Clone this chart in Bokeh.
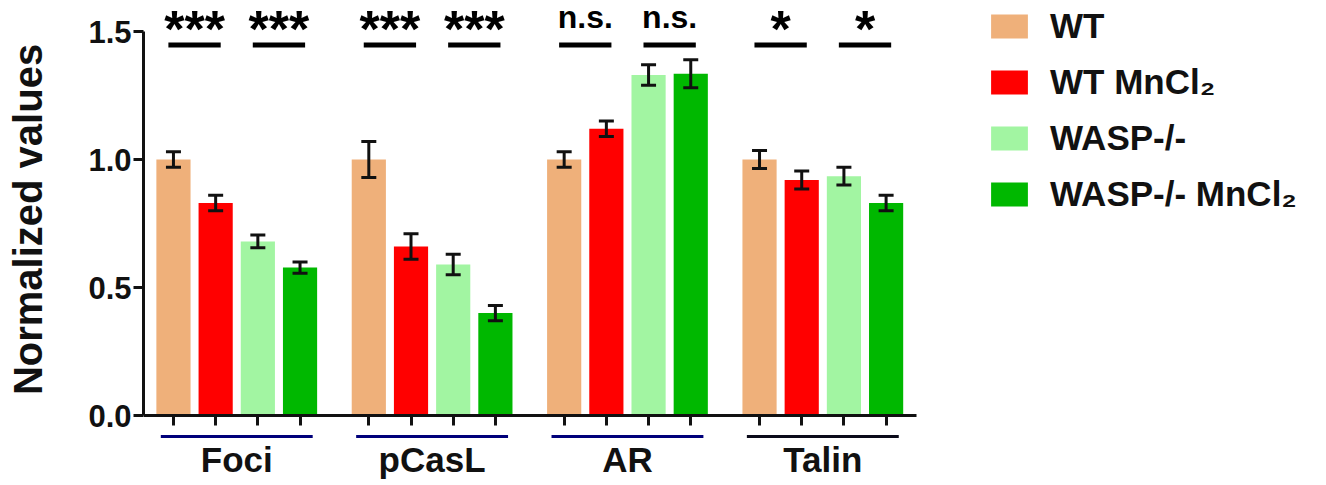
from bokeh.plotting import figure
from bokeh.models import (ColumnDataSource, Range1d, FixedTicker, Whisker, TeeHead,
                          Legend, LegendItem, PrintfTickFormatter, LinearAxis)
from bokeh.core.properties import value
from bokeh.embed import file_html
from bokeh.resources import INLINE

# ---------------- data ----------------
groups = ["Foci", "pCasL", "AR", "Talin"]
series = ["WT", "WT MnCl\u2082", "WASP-/-", "WASP-/- MnCl\u2082"]
colors = ["#EFB07A", "#FF0000", "#A2F5A2", "#00B800"]

wt          = [1.00, 1.00, 1.00, 1.00]
wt_mn       = [0.83, 0.66, 1.12, 0.92]
wasp        = [0.68, 0.59, 1.33, 0.935]
wasp_mn     = [0.578, 0.40, 1.335, 0.83]

wt_err      = [0.03, 0.07, 0.03, 0.035]
wt_mn_err   = [0.03, 0.05, 0.03, 0.035]
wasp_err    = [0.025, 0.04, 0.04, 0.035]
wasp_mn_err = [0.022, 0.03, 0.055, 0.03]

# significance: (group index, first bar of the compared pair, label)
sig_group = [0, 0, 1, 1, 2, 2, 3, 3]
sig_first = [0, 2, 0, 2, 0, 2, 0, 2]
sig_label = ["***", "***", "***", "***", "n.s.", "n.s.", "*", "*"]

underline_colors = ["#00007A", "#00007A", "#00007A", "#0A0A1A"]

y_ticks = [0.0, 0.5, 1.0, 1.5]

# ---------------- layout constants ----------------
GROUP_STEP = 4.63
BAR_W = 0.81
FONT = "Liberation Sans"
INK = "#111111"

values = [wt, wt_mn, wasp, wasp_mn]
errors = [wt_err, wt_mn_err, wasp_err, wasp_mn_err]

def xpos(g, i):
    return g * GROUP_STEP + i

p = figure(width=1324, height=484, output_backend="svg", toolbar_location=None,
           title=None, x_range=Range1d(-0.71, 27.28), y_range=Range1d(-0.0898, 1.6211),
           min_border_left=143, min_border_right=0, min_border_top=0,
           min_border_bottom=46)
p.outline_line_color = None
p.xgrid.visible = False
p.ygrid.visible = False
p.background_fill_color = "white"
p.border_fill_color = "white"

legend_items = []
for s, (name, col, vals, errs) in enumerate(zip(series, colors, values, errors)):
    xs = [xpos(g, s) for g in range(len(groups))]
    src = ColumnDataSource(dict(x=xs, top=vals,
                                lower=[v - e for v, e in zip(vals, errs)],
                                upper=[v + e for v, e in zip(vals, errs)]))
    r = p.vbar(x="x", top="top", width=BAR_W, bottom=0, source=src,
               fill_color=col, line_color=None)
    legend_items.append(LegendItem(label=name, renderers=[r]))
    w = Whisker(base="x", lower="lower", upper="upper", source=src,
                dimension="height", line_width=3, line_color=INK, level="overlay",
                upper_head=TeeHead(size=15, line_width=3, line_color=INK),
                lower_head=TeeHead(size=15, line_width=3, line_color=INK))
    p.add_layout(w)

# significance lines + labels
mids = [(xpos(g, a) + xpos(g, a + 1)) / 2 for g, a in zip(sig_group, sig_first)]
sig_src = ColumnDataSource(dict(x0=[m - 0.62 for m in mids], x1=[m + 0.62 for m in mids],
                                y=[1.447] * len(mids)))
p.segment(x0="x0", y0="y", x1="x1", y1="y", source=sig_src, line_width=5,
          line_color="black")

star_idx = [k for k, t in enumerate(sig_label) if "*" in t]
ns_idx = [k for k, t in enumerate(sig_label) if "*" not in t]
star_src = ColumnDataSource(dict(x=[mids[k] for k in star_idx],
                                 y=[1.51] * len(star_idx),
                                 t=[sig_label[k] for k in star_idx]))
ns_src = ColumnDataSource(dict(x=[mids[k] for k in ns_idx],
                               y=[1.5547] * len(ns_idx),
                               t=[sig_label[k] for k in ns_idx]))
p.text(x="x", y="y", text="t", source=star_src, text_align="center",
       text_baseline="alphabetic", text_font=value(FONT), text_font_style="bold",
       text_font_size="52px", text_color="black")
p.text(x="x", y="y", text="t", source=ns_src, text_align="center",
       text_baseline="alphabetic", text_font=value(FONT), text_font_style="bold",
       text_font_size="32px", text_color="black")

# group underlines
centers = [xpos(g, 1.5) for g in range(len(groups))]
grp_src = ColumnDataSource(dict(x0=[c - 1.8 for c in centers],
                                x1=[c + 1.8 for c in centers],
                                y=[-0.082] * len(groups), color=underline_colors))
p.segment(x0="x0", y0="y", x1="x1", y1="y", source=grp_src, line_width=3,
          line_color="color")

# group-name axis (below the frame)
ga = p.xaxis[0]
ga.ticker = FixedTicker(ticks=centers)
ga.major_label_overrides = {c: n for c, n in zip(centers, groups)}
ga.axis_line_color = None
ga.major_tick_line_color = None
ga.minor_tick_line_color = None
ga.major_tick_out = 0
ga.major_tick_in = 0
ga.major_label_standoff = 1
ga.major_label_text_font = FONT
ga.major_label_text_font_style = "bold"
ga.major_label_text_font_size = "35px"
ga.major_label_text_color = INK

# bar axis fixed at y = 0
bar_ticks = [xpos(g, i) for g in range(len(groups)) for i in range(len(series))]
xa = LinearAxis(ticker=FixedTicker(ticks=bar_ticks), fixed_location=0)
xa.major_label_overrides = {t: "" for t in bar_ticks}
xa.bounds = (-0.71, 17.6)
xa.axis_line_width = 3
xa.axis_line_color = INK
xa.major_tick_line_width = 3
xa.major_tick_line_color = INK
xa.major_tick_in = 0
xa.major_tick_out = 10
xa.minor_tick_line_color = None
p.add_layout(xa, "below")

ya = p.yaxis[0]
ya.ticker = FixedTicker(ticks=y_ticks)
ya.formatter = PrintfTickFormatter(format="%.1f")
ya.bounds = (0, 1.5)
ya.axis_line_width = 3
ya.axis_line_color = INK
ya.major_tick_line_width = 3
ya.major_tick_line_color = INK
ya.major_tick_in = 0
ya.major_tick_out = 10
ya.minor_tick_line_color = None
ya.major_label_standoff = 2
ya.major_label_text_font = FONT
ya.major_label_text_font_style = "bold"
ya.major_label_text_font_size = "31px"
ya.major_label_text_color = INK
ya.axis_label = "Normalized values"
ya.axis_label_text_font = FONT
ya.axis_label_text_font_style = "bold"
ya.axis_label_text_font_size = "40px"
ya.axis_label_text_color = INK
ya.axis_label_standoff = 35

legend = Legend(items=legend_items, location=(843, 224), orientation="vertical",
                glyph_width=46, glyph_height=30, label_standoff=18, spacing=16,
                padding=0, margin=0, border_line_color=None, background_fill_alpha=0,
                label_text_font=FONT, label_text_font_style="bold",
                label_text_font_size="35px", label_text_color=INK)
p.add_layout(legend)

open("out.html", "w").write(file_html(p, INLINE))
